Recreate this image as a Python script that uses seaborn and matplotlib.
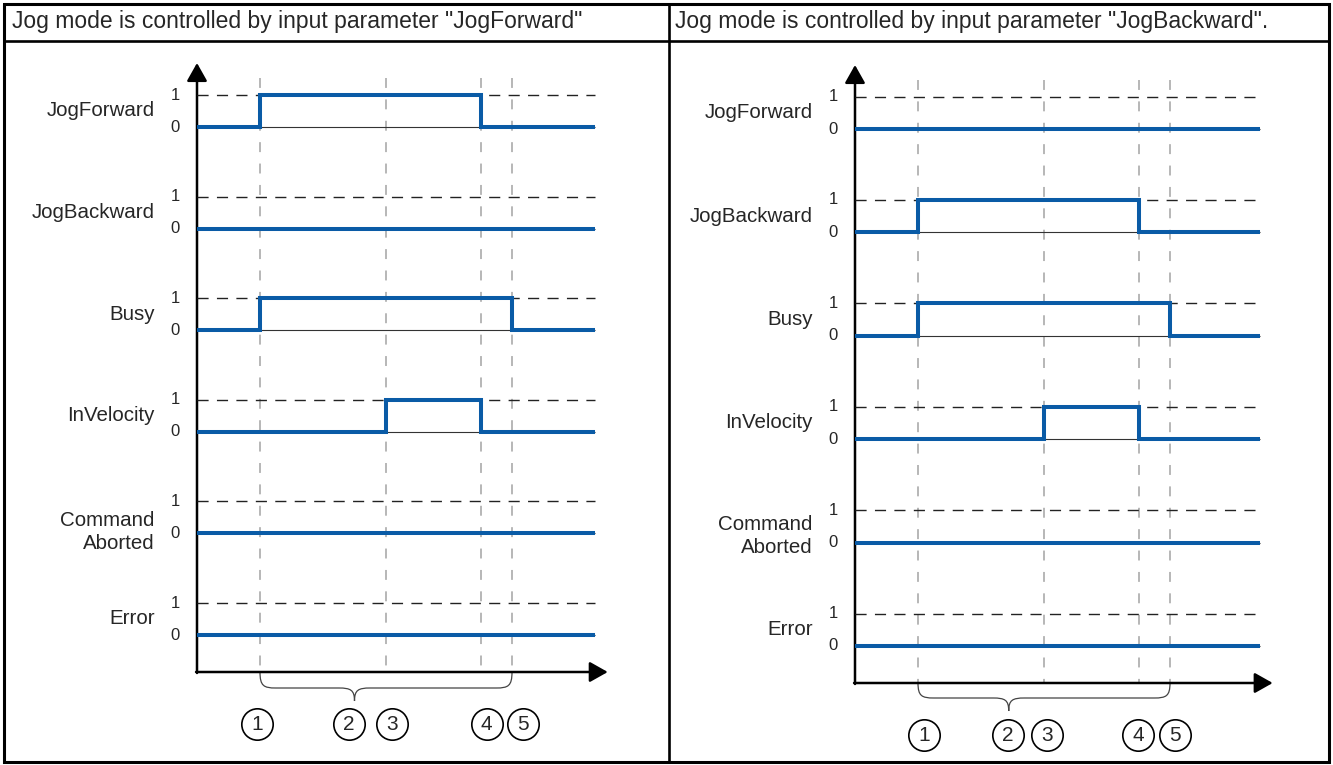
import matplotlib
matplotlib.use("Agg")
import matplotlib.pyplot as plt
from matplotlib.path import Path
from matplotlib.patches import PathPatch
import pandas as pd
import seaborn as sns

W, H = 1333, 765
BLUE = "#0a5ba6"

# ---- data ----
headers = ['Jog mode is controlled by input parameter "JogForward"',
           'Jog mode is controlled by input parameter "JogBackward".']
signal_names = ["JogForward", "JogBackward", "Busy", "InVelocity",
                "Command\nAborted", "Error"]
step_times = [0.0, 1.0, 3.0, 4.5, 5.0]   # start, (1), (3), (4), (5)
event_times = [1.0, 3.0, 4.5, 5.0]
end_times = [6.32, 6.43]

fwd_jogforward = [0, 1, 1, 0, 0]
fwd_jogbackward = [0, 0, 0, 0, 0]
fwd_busy = [0, 1, 1, 1, 0]
fwd_invelocity = [0, 0, 1, 0, 0]
fwd_aborted = [0, 0, 0, 0, 0]
fwd_error = [0, 0, 0, 0, 0]

bwd_jogforward = [0, 0, 0, 0, 0]
bwd_jogbackward = [0, 1, 1, 0, 0]
bwd_busy = [0, 1, 1, 1, 0]
bwd_invelocity = [0, 0, 1, 0, 0]
bwd_aborted = [0, 0, 0, 0, 0]
bwd_error = [0, 0, 0, 0, 0]

step_labels = ["1", "2", "3", "4", "5"]

panels_levels = [
    [fwd_jogforward, fwd_jogbackward, fwd_busy, fwd_invelocity, fwd_aborted, fwd_error],
    [bwd_jogforward, bwd_jogbackward, bwd_busy, bwd_invelocity, bwd_aborted, bwd_error],
]

# ---- layout (pixels) ----
PX_PER_T = 63.0
layout = [
    dict(x0=197, axis_y=672, tip_y=63, vtop=78, base0=127, gap=101.6, hi=32,
         arrow_end=6.52, brace=(672, 688, 701), brace_tip=2.5, num_y=724,
         num_x=[0.95, 2.41, 3.10, 4.60, 5.17], two_line=0.05, head_x=12),
    dict(x0=855, axis_y=683, tip_y=65, vtop=80, base0=129, gap=103.4, hi=32.5,
         arrow_end=6.63, brace=(683, 698, 711), brace_tip=2.44, num_y=735,
         num_x=[1.10, 2.43, 3.05, 4.49, 5.08], two_line=0.2, head_x=675),
]

sns.set_style("white")
plt.rcParams["font.family"] = ["Liberation Sans", "DejaVu Sans"]

fig = plt.figure(figsize=(W / 100, H / 100), dpi=100)


def box(x0, y0, x1, y1):
    return [x0 / W, 1 - y1 / H, (x1 - x0) / W, (y1 - y0) / H]


# table frame
fr = fig.add_axes([0, 0, 1, 1])
fr.set_xlim(0, W)
fr.set_ylim(H, 0)
fr.axis("off")
fr.plot([4, 1329, 1329, 4, 4], [4, 4, 762, 762, 4], color="black", lw=2.2,
        solid_joinstyle="miter")
fr.plot([4, 1329], [41, 41], color="black", lw=1.9)
fr.plot([669, 669], [4, 762], color="black", lw=1.9)

for p, lay in enumerate(layout):
    fr.text(lay["head_x"], 21, headers[p], fontsize=16.5, ha="left", va="center")

    x0 = lay["x0"]
    xmax = lay["arrow_end"] + 0.3
    x1 = x0 + xmax * PX_PER_T

    # background axes: axes arrows, event lines, brace, step numbers
    bg = fig.add_axes(box(x0, 50, x1, 760))
    bg.set_xlim(0, xmax)
    bg.set_ylim(760, 50)
    bg.axis("off")
    bg.patch.set_alpha(0)

    bg.vlines(event_times, lay["vtop"], lay["axis_y"], colors="#a3a3a3",
              linewidth=1.1, linestyles=(0, (6.5, 7.5)))
    arrow = dict(arrowstyle="-|>,head_length=1.1,head_width=0.62", mutation_scale=10,
                 color="black", lw=1.8, shrinkA=0, shrinkB=0)
    bg.annotate("", xy=(0, lay["tip_y"]), xytext=(0, lay["axis_y"] + 1), arrowprops=arrow)
    bg.annotate("", xy=(lay["arrow_end"], lay["axis_y"]), xytext=(-0.015, lay["axis_y"]),
                arrowprops=arrow)

    ya, yb, yc = lay["brace"]
    t1, t5, tip = event_times[0], event_times[-1], lay["brace_tip"]
    r = 0.25
    verts = [(t1, ya),
             (t1, yb - 2), (t1 + 0.06, yb), (t1 + r, yb),
             (tip - r, yb),
             (tip - 0.06, yb), (tip, yb + 2), (tip, yc),
             (tip, yb + 2), (tip + 0.06, yb), (tip + r, yb),
             (t5 - r, yb),
             (t5 - 0.06, yb), (t5, yb - 2), (t5, ya)]
    codes = [Path.MOVETO] + [Path.CURVE4] * 3 + [Path.LINETO] + [Path.CURVE4] * 6 + \
            [Path.LINETO] + [Path.CURVE4] * 3
    bg.add_patch(PathPatch(Path(verts, codes), fc="none", ec="#444444", lw=0.9))

    bg.scatter(lay["num_x"], [lay["num_y"]] * 5, s=510, facecolors="white",
               edgecolors="black", linewidths=1.2, zorder=3)
    for lx, lab in zip(lay["num_x"], step_labels):
        bg.text(lx, lay["num_y"] + 0.5, lab, ha="center", va="center", fontsize=15, zorder=4)

    # one axes per signal row
    for i, (name, levels) in enumerate(zip(signal_names, panels_levels[p])):
        base = lay["base0"] + i * lay["gap"]
        hi = lay["hi"]
        ax = fig.add_axes(box(x0, base - 1.5 * hi, x1, base + 0.5 * hi))
        ax.set_xlim(0, xmax)
        ax.set_ylim(-0.5, 1.5)
        ax.axis("off")
        ax.patch.set_alpha(0)

        t_end = end_times[p]
        df = pd.DataFrame({"t": step_times + [t_end], "v": levels + [levels[-1]]})
        ax.hlines(1, 0, t_end, colors="#222222", linewidth=1.0, linestyles=(0, (8, 6)))
        ax.hlines(0, 0, t_end, colors="#333333", linewidth=0.8)
        sns.lineplot(data=df, x="t", y="v", ax=ax, drawstyle="steps-post", color=BLUE,
                     linewidth=2.9, estimator=None, sort=False, legend=False,
                     solid_joinstyle="miter", solid_capstyle="butt")

        ax.text(-0.35, 1, "1", ha="center", va="center", fontsize=12)
        ax.text(-0.35, 0, "0", ha="center", va="center", fontsize=12)
        ly = lay["two_line"] if "\n" in name else 0.5
        ax.text(-0.67, ly, name, ha="right", va="center", fontsize=14.8, linespacing=1.3)

fig.savefig("out.png", dpi=100)
